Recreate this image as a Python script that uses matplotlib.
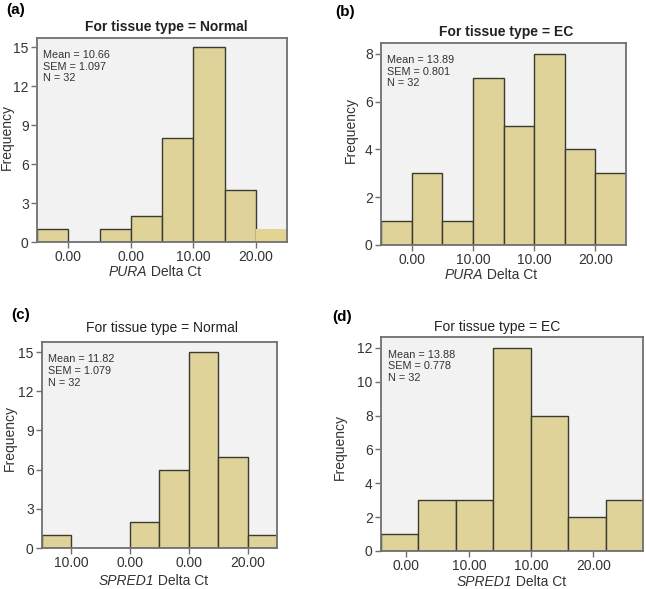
import matplotlib.pyplot as plt

plt.rcParams['font.family'] = ['Liberation Sans', 'DejaVu Sans']

# counts per bin
counts_a = [1, 0, 1, 2, 8, 15, 4, 1]
counts_b = [1, 3, 1, 7, 5, 8, 4, 3]
counts_c = [1, 0, 0, 2, 6, 15, 7, 1]
counts_d = [1, 3, 3, 12, 8, 2, 3]

ticklabels_a = ["0.00", "0.00", "10.00", "20.00"]
ticklabels_b = ["0.00", "10.00", "10.00", "20.00"]
ticklabels_c = ["10.00", "0.00", "0.00", "20.00"]
ticklabels_d = ["0.00", "10.00", "10.00", "20.00"]

stats_a = "Mean = 10.66\nSEM = 1.097\nN = 32"
stats_b = "Mean = 13.89\nSEM = 0.801\nN = 32"
stats_c = "Mean = 11.82\nSEM = 1.079\nN = 32"
stats_d = "Mean = 13.88\nSEM = 0.778\nN = 32"

bar_color = "#dfd39a"
edge_color = "#3a3a30"
frame_color = "#707070"
bg_color = "#f2f2f2"
text_color = "#333333"

W, H = 646, 589
fig = plt.figure(figsize=(6.46, 5.89), dpi=100)
renderer = fig.canvas.get_renderer()


def px_axes(left, top, right, bottom):
    return fig.add_axes([left / W, 1 - bottom / H, (right - left) / W, (bottom - top) / H])


def fx(x):
    return x / W


def fy(y):
    return 1 - y / H


def panel(ax, counts, ticks, ticklabels, yticks, ytop, stats, no_edge_last=False):
    ax.set_facecolor(bg_color)
    n = len(counts)
    for i, c in enumerate(counts):
        if c == 0:
            continue
        if no_edge_last and i == n - 1:
            ax.bar(i, c, width=1, align='edge', color="#e2d594", edgecolor='none')
        else:
            ax.bar(i, c, width=1, align='edge', color=bar_color,
                   edgecolor=edge_color, linewidth=1.0)
    ax.set_xlim(0, n)
    ax.set_ylim(0, ytop)
    ax.set_xticks(ticks)
    ax.set_xticklabels(ticklabels)
    ax.set_yticks(yticks)
    for s in ax.spines.values():
        s.set_color(frame_color)
        s.set_linewidth(1.3)
    ax.tick_params(axis='both', labelsize=10, color=frame_color, length=4,
                   width=1, labelcolor=text_color, pad=2)
    ax.text(0.025, 0.94, stats, transform=ax.transAxes, fontsize=7.8,
            va='top', ha='left', color=text_color, linespacing=1.2)


def gene_label(xc, yc, gene):
    # italic gene name followed by upright " Delta Ct", centred on (xc, yc)
    t1 = fig.text(0, fy(yc), gene, fontsize=10, fontstyle='italic', ha='left',
                  va='center', color=text_color)
    t2 = fig.text(0, fy(yc), " Delta Ct", fontsize=10, ha='left', va='center',
                  color=text_color)
    w1 = t1.get_window_extent(renderer).width
    w2 = t2.get_window_extent(renderer).width
    x0 = xc - (w1 + w2) / 2
    t1.set_x(fx(x0))
    t2.set_x(fx(x0 + w1))


ax_a = px_axes(37, 38, 287, 242)
panel(ax_a, counts_a, [1, 3, 5, 7], ticklabels_a, [0, 3, 6, 9, 12, 15], 15.7, stats_a,
      no_edge_last=True)
ax_b = px_axes(381, 43, 626, 245)
panel(ax_b, counts_b, [1, 3, 5, 7], ticklabels_b, [0, 2, 4, 6, 8], 8.46, stats_b)
ax_c = px_axes(42, 342, 277, 548)
panel(ax_c, counts_c, [1, 3, 5, 7], ticklabels_c, [0, 3, 6, 9, 12, 15], 15.77, stats_c)
ax_d = px_axes(381, 337, 643, 551)
panel(ax_d, counts_d, [0.68, 2.35, 4.02, 5.67], ticklabels_d, [0, 2, 4, 6, 8, 10, 12],
      12.65, stats_d)

# panel letters
for lab, x, y in [("(a)", 6, 10), ("(b)", 335, 12), ("(c)", 11, 315), ("(d)", 332, 317)]:
    fig.text(fx(x), fy(y), lab, fontsize=11, fontweight='bold', ha='left', va='center')

# titles
fig.text(fx(166), fy(27), "For tissue type = Normal", fontsize=10, fontweight='bold',
         ha='center', va='center', color="#222222")
fig.text(fx(506), fy(32), "For tissue type = EC", fontsize=10, fontweight='bold',
         ha='center', va='center', color="#222222")
fig.text(fx(162), fy(328), "For tissue type = Normal", fontsize=10,
         ha='center', va='center', color="#222222")
fig.text(fx(497), fy(327), "For tissue type = EC", fontsize=10,
         ha='center', va='center', color="#222222")

# axis labels
gene_label(155, 272, "PURA")
gene_label(491, 275, "PURA")
gene_label(153, 581, "SPRED1")
gene_label(511, 582, "SPRED1")

for x, y in [(7, 137), (351, 130), (10, 438), (340, 447)]:
    fig.text(fx(x), fy(y), "Frequency", fontsize=10, rotation=90, ha='center', va='center',
             color=text_color)

fig.savefig("out.png", dpi=100)
